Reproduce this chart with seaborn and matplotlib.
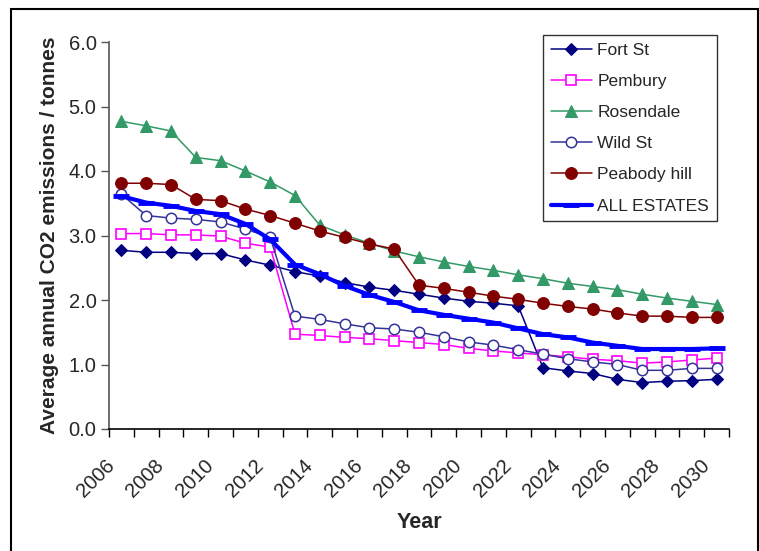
import matplotlib
matplotlib.use("Agg")
import matplotlib.pyplot as plt
from matplotlib.patches import Rectangle
from matplotlib.transforms import ScaledTranslation
import seaborn as sns
import pandas as pd

# Annual average CO2 emissions per estate, tonnes
years = list(range(2006, 2031))
fort_st = [2.77, 2.74, 2.74, 2.72, 2.72, 2.62, 2.54, 2.44, 2.37, 2.27, 2.20, 2.15, 2.09,
           2.03, 1.98, 1.95, 1.91, 0.95, 0.90, 0.86, 0.77, 0.72, 0.74, 0.75, 0.77]
pembury = [3.03, 3.03, 3.01, 3.01, 2.99, 2.88, 2.82, 1.47, 1.45, 1.42, 1.40, 1.37, 1.34,
           1.31, 1.25, 1.21, 1.18, 1.15, 1.12, 1.08, 1.06, 1.02, 1.04, 1.07, 1.10]
rosendale = [4.77, 4.70, 4.62, 4.21, 4.16, 4.00, 3.83, 3.62, 3.16, 3.01, 2.88, 2.76, 2.67,
             2.59, 2.52, 2.46, 2.39, 2.33, 2.26, 2.21, 2.16, 2.09, 2.03, 1.98, 1.93]
wild_st = [3.64, 3.31, 3.27, 3.25, 3.21, 3.10, 2.97, 1.75, 1.70, 1.63, 1.57, 1.55, 1.50,
           1.43, 1.35, 1.30, 1.23, 1.16, 1.09, 1.04, 1.00, 0.91, 0.91, 0.94, 0.94]
peabody_hill = [3.81, 3.81, 3.79, 3.56, 3.54, 3.41, 3.31, 3.19, 3.07, 2.97, 2.87, 2.79, 2.23,
                2.18, 2.12, 2.06, 2.01, 1.95, 1.90, 1.86, 1.80, 1.75, 1.75, 1.73, 1.73]
all_estates = [3.61, 3.51, 3.46, 3.38, 3.33, 3.18, 2.94, 2.55, 2.40, 2.22, 2.08, 1.97, 1.84,
               1.77, 1.71, 1.65, 1.56, 1.47, 1.42, 1.34, 1.29, 1.24, 1.24, 1.24, 1.25]

series_names = ["Fort St", "Pembury", "Rosendale", "Wild St", "Peabody hill", "ALL ESTATES"]
series_values = [fort_st, pembury, rosendale, wild_st, peabody_hill, all_estates]

sns.set_theme(style="white")
plt.rcParams["font.family"] = ["Liberation Sans", "DejaVu Sans"]

styles = {
    "Fort St": dict(color="#000080", marker="D", markersize=6.5, markerfacecolor="#000080",
                    markeredgecolor="#000080", linewidth=1.1),
    "Pembury": dict(color="#FF00FF", marker="s", markersize=7.5, markerfacecolor="white",
                    markeredgecolor="#FF00FF", markeredgewidth=1.2, linewidth=1.1),
    "Rosendale": dict(color="#339966", marker="^", markersize=9, markerfacecolor="#339966",
                      markeredgecolor="#339966", linewidth=1.1),
    "Wild St": dict(color="#333399", marker="o", markersize=7.5, markerfacecolor="white",
                    markeredgecolor="#333399", markeredgewidth=1.1, linewidth=1.1),
    "Peabody hill": dict(color="#800000", marker="o", markersize=8.5, markerfacecolor="#800000",
                         markeredgecolor="#800000", linewidth=1.1),
    "ALL ESTATES": dict(color="#0000FF", marker="_", markersize=12, markeredgewidth=3.5,
                        markeredgecolor="#0000FF", linewidth=3.0),
}

fig = plt.figure(figsize=(7.59, 5.51), dpi=100)
ax = fig.add_axes([109 / 759, 1 - 429 / 551, 620 / 759, 387 / 551])

for name, vals in zip(series_names, series_values):
    df = pd.DataFrame({"Year": years, "CO2": vals})
    sns.lineplot(data=df, x="Year", y="CO2", ax=ax, label=name, **styles[name])

ax.set_xlim(2005.5, 2030.5)
ax.set_ylim(0, 6)

# y axis
ax.set_yticks([0, 1, 2, 3, 4, 5, 6])
ax.set_yticklabels([f"{v:.1f}" for v in range(7)])
ax.tick_params(axis="y", which="major", direction="out", length=6, width=1,
               color="#555555", labelsize=14.5, pad=3, left=True)

# x axis: labels at every other year, tick marks between categories
ax.set_xticks(years[::2])
ax.set_xticklabels([str(y) for y in years[::2]])
ax.set_xticks([y - 0.5 for y in years] + [years[-1] + 0.5], minor=True)
ax.tick_params(axis="x", which="major", length=0, labelsize=14.5, pad=24)
ax.tick_params(axis="x", which="minor", direction="out", length=6, width=1,
               color="black", bottom=True)

for side in ("top", "right"):
    ax.spines[side].set_visible(False)
ax.spines["left"].set_color("#555555")
ax.spines["left"].set_linewidth(1.2)
ax.spines["bottom"].set_color("black")
ax.spines["bottom"].set_linewidth(1.2)

ax.set_ylabel("Average annual CO2 emissions / tonnes", fontsize=15, fontweight="bold")
ax.set_xlabel("Year", fontsize=15.5, fontweight="bold")
ax.yaxis.set_label_coords(-0.08, 0.5)
ax.xaxis.set_label_coords(0.5, -0.215)

leg = ax.legend(loc="upper right", bbox_to_anchor=(717 / 759, 1 - 35 / 551),
                bbox_transform=fig.transFigure, frameon=True, fancybox=False,
                fontsize=12.5, handlelength=2.4, handletextpad=0.3, labelspacing=0.92,
                borderpad=0.45, borderaxespad=0)
leg.get_frame().set_edgecolor("black")
leg.get_frame().set_linewidth(1.0)

# rotated year labels, nudged so their ends sit just left of each category centre
shift = ScaledTranslation(-10 / 100, 0, fig.dpi_scale_trans)
for lbl in ax.get_xticklabels():
    lbl.set_rotation(45)
    lbl.set_ha("right")
    lbl.set_va("center")
    lbl.set_rotation_mode("anchor")
    lbl.set_transform(lbl.get_transform() + shift)

# chart area border
fig.patches.append(Rectangle((11 / 759, -0.02), 746.5 / 759, 1.02 - 9 / 551,
                             transform=fig.transFigure, fill=False,
                             edgecolor="black", linewidth=1.5))

fig.savefig("out.png", dpi=100, facecolor="white")
